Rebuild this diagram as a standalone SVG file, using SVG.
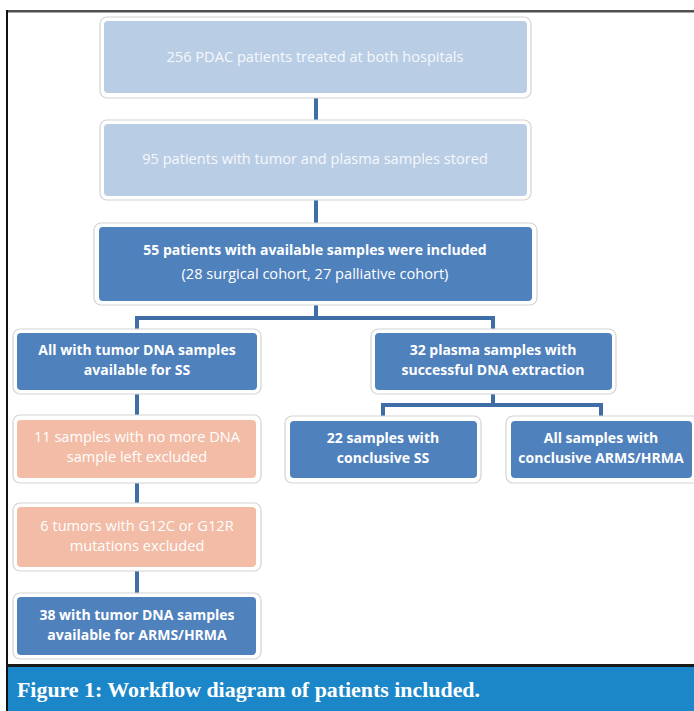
<svg xmlns="http://www.w3.org/2000/svg" width="694" height="711" viewBox="0 0 694 711">
<style>
.outer{fill:#ffffff;stroke:#d3d3d3;stroke-width:1.2}
.lb{fill:#b9cde5}
.db{fill:#4f81bd}
.pk{fill:#f2bca6}
.t{font-family:"Open Sans","Liberation Sans",sans-serif;font-size:14.6px;text-anchor:middle;fill:#ffffff}
.tl{fill:#f6f8fc}
.b{font-weight:bold;font-size:14px}
.conn{stroke:#3f6ea6;stroke-width:4;fill:none}
</style>
<rect x="0" y="0" width="694" height="711" fill="#ffffff"/>
<rect x="7" y="10" width="687" height="2.5" fill="#505050"/>
<rect x="6" y="10" width="2" height="701" fill="#111111"/>
<rect x="7" y="664" width="687" height="3" fill="#1a1a1a"/>
<rect x="8" y="667" width="686" height="44" fill="#1b87c8"/>
<text x="17" y="697" font-family="'Liberation Serif',serif" font-weight="bold" font-size="21" fill="#ffffff" textLength="463" lengthAdjust="spacingAndGlyphs">Figure 1: Workflow diagram of patients included.</text>
<g id="connectors">
<line class="conn" x1="316" y1="96" x2="316" y2="122"/>
<line class="conn" x1="316" y1="198" x2="316" y2="225"/>
<polyline class="conn" points="316,302 316,318 137,318 137,332"/>
<polyline class="conn" points="316,318 493,318 493,332"/>
<line class="conn" x1="137" y1="390" x2="137" y2="418"/>
<polyline class="conn" points="493,390 493,405 383,405 383,418"/>
<polyline class="conn" points="493,405 601,405 601,418"/>
<line class="conn" x1="137" y1="479" x2="137" y2="505"/>
<line class="conn" x1="137" y1="568" x2="137" y2="595"/>
</g>
<g id="n1">
<rect class="outer" x="100" y="17" width="431" height="81" rx="7"/>
<rect class="lb" x="104" y="21" width="423" height="72" rx="4"/>
<text class="t tl" x="315" y="62">256 PDAC patients treated at both hospitals</text>
</g>
<g id="n2">
<rect class="outer" x="100" y="120" width="431" height="80" rx="7"/>
<rect class="lb" x="104" y="124" width="423" height="72" rx="4"/>
<text class="t tl" x="315" y="164">95 patients with tumor and plasma samples stored</text>
</g>
<g id="n3">
<rect class="outer" x="94" y="223" width="443" height="82" rx="7"/>
<rect class="db" x="99" y="227" width="433" height="74" rx="4"/>
<text class="t b" x="315" y="255">55 patients with available samples were included</text>
<text class="t" x="315" y="279">(28 surgical cohort, 27 palliative cohort)</text>
</g>
<g id="n4">
<rect class="outer" x="13" y="329" width="248" height="65" rx="7"/>
<rect class="db" x="17" y="333" width="240" height="57" rx="4"/>
<text class="t b" x="137" y="355">All with tumor DNA samples</text>
<text class="t b" x="137" y="375">available for SS</text>
</g>
<g id="n5">
<rect class="outer" x="371" y="329" width="245" height="65" rx="7"/>
<rect class="db" x="375" y="333" width="237" height="57" rx="4"/>
<text class="t b" x="493" y="355">32 plasma samples with</text>
<text class="t b" x="493" y="375">successful DNA extraction</text>
</g>
<g id="n6">
<rect class="outer" x="285" y="416" width="196" height="67" rx="7"/>
<rect class="db" x="290" y="421" width="187" height="57" rx="4"/>
<text class="t b" x="383" y="443">22 samples with</text>
<text class="t b" x="383" y="463">conclusive SS</text>
</g>
<g id="n7">
<rect class="outer" x="506" y="416" width="194" height="67" rx="7"/>
<rect class="db" x="511" y="421" width="181" height="57" rx="4"/>
<text class="t b" x="601" y="443">All samples with</text>
<text class="t b" x="601" y="463">conclusive ARMS/HRMA</text>
</g>
<g id="n8">
<rect class="outer" x="13" y="415" width="248" height="68" rx="7"/>
<rect class="pk" x="17" y="420" width="239" height="58" rx="4"/>
<text class="t" x="137" y="442">11 samples with no more DNA</text>
<text class="t" x="137" y="462">sample left excluded</text>
</g>
<g id="n9">
<rect class="outer" x="13" y="503" width="248" height="68" rx="7"/>
<rect class="pk" x="17" y="507" width="239" height="60" rx="4"/>
<text class="t" x="137" y="531">6 tumors with G12C or G12R</text>
<text class="t" x="137" y="551">mutations excluded</text>
</g>
<g id="n10">
<rect class="outer" x="13" y="593" width="248" height="66" rx="7"/>
<rect class="db" x="17" y="597" width="239" height="58" rx="4"/>
<text class="t b" x="137" y="620">38 with tumor DNA samples</text>
<text class="t b" x="137" y="640">available for ARMS/HRMA</text>
</g>
</svg>
